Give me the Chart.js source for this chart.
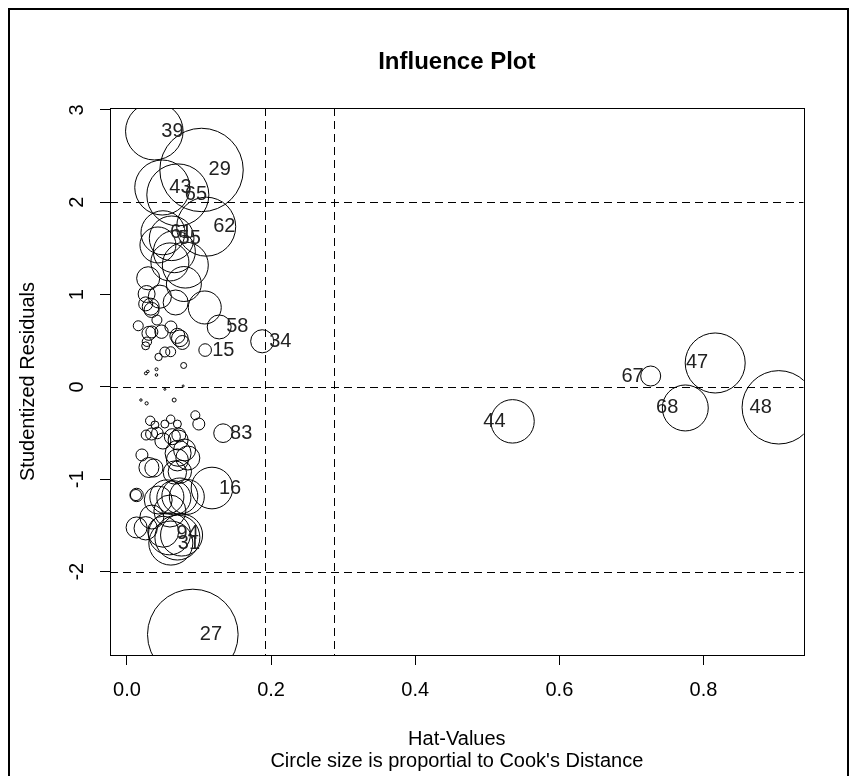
<!DOCTYPE html>
<html>
<head>
<meta charset="utf-8">
<script src="https://cdn.jsdelivr.net/npm/chart.js@4"></script>
<style>
  html, body { margin: 0; padding: 0; background: #fff; }
  #wrap { width: 850px; height: 776px; }
</style>
</head>
<body>
<div id="wrap"><canvas id="influence" width="850" height="776"></canvas></div>
<script>
// observation labels ('' = not labelled)
const obsLabels = [
  '39', '29', '43', '65', '62', '61', '55', '58', '34', '15',
  '83', '16', '94', '31', '27', '44', '67', '47', '68', '48',
  '', '', '', '', '', '', '', '', '', '', '', '', '', '', '', '', '', '', '', '', '', '', '', '', '', '', '', '',
  '', '', '', '', '', '', '', '', '', '', '', '', '', '', '', '', '', '', '', '', '', '', '', '', '', '', '', '',
  '', '', '', '', '', '', '', '', '', '', '', '', '', '', '', '', '', ''
];
const hatValues = [
  0.038, 0.1035, 0.049, 0.0706, 0.110, 0.050, 0.062, 0.128, 0.1877, 0.1085,
  0.1334, 0.118, 0.0591, 0.0609, 0.0914, 0.535, 0.7267, 0.8162, 0.7747, 0.9044,
  0.0658, 0.043, 0.081, 0.079, 0.0295, 0.0273, 0.0457, 0.0676, 0.108, 0.033,
  0.0342, 0.026, 0.0157, 0.0305, 0.0346, 0.048, 0.0277, 0.026, 0.070, 0.0734,
  0.0769, 0.0607, 0.0526, 0.0439, 0.0787, 0.0263, 0.029, 0.041, 0.041, 0.0526,
  0.078, 0.0194, 0.0273, 0.0655, 0.0949, 0.0997, 0.0323, 0.0388, 0.0607, 0.0526,
  0.070, 0.0267, 0.0342, 0.0422, 0.063, 0.072, 0.071, 0.071, 0.070, 0.080,
  0.0305, 0.0374, 0.0665, 0.0734, 0.0134, 0.0125, 0.0434, 0.0554, 0.0651, 0.0734,
  0.0831, 0.0134, 0.026, 0.0503, 0.070, 0.0758, 0.0596, 0.0416, 0.061, 0.0499,
  0.0845, 0.0208, 0.0596, 0.0346
];
const studRes = [
  2.77, 2.35, 2.16, 2.08, 1.736, 1.67, 1.61, 0.65, 0.495, 0.40,
  -0.50, -1.094, -1.59, -1.69, -2.68, -0.372, 0.119, 0.26, -0.227, -0.22,
  1.465, 1.538, 1.32, 1.115, 1.177, 1.007, 0.978, 0.915, 0.861, 0.87,
  0.834, 0.90, 0.663, 0.581, 0.596, 0.599, 0.49, 0.446, 0.554, 0.527,
  0.482, 0.382, 0.379, 0.325, 0.233, 0.148, 0.168, 0.192, 0.13, -0.025,
  0.011, -0.141, -0.177, -0.141, -0.306, -0.401, -0.366, -0.411, -0.349, -0.401,
  -0.401, -0.52, -0.509, -0.498, -0.538, -0.52, -0.574, -0.718, -0.79, -0.682,
  -0.872, -0.877, -0.926, -0.917, -1.169, -1.17, -1.224, -1.19, -1.20, -1.18,
  -1.19, -1.521, -1.53, -1.567, -1.63, -1.603, 1.354, 0.725, 0.65, -0.585,
  -0.769, -0.736, -1.343, -1.408
];
const cooksD = [
  0.0323, 0.0678, 0.0295, 0.0375, 0.0339, 0.0189, 0.0194, 0.0056, 0.0052, 0.00155,
  0.0034, 0.0169, 0.0172, 0.0189, 0.08, 0.0184, 0.0039, 0.0351, 0.0206, 0.0525,
  0.0172, 0.0126, 0.0206, 0.0119, 0.0052, 0.0028, 0.0052, 0.0061, 0.0106, 0.0028,
  0.0022, 0.0019, 0.00097, 0.0019, 0.0014, 0.00175, 0.00086, 0.00062, 0.0022, 0.0027,
  0.0019, 0.00097, 0.00097, 0.00053, 0.00035, 0.000088, 0.000066, 0.000088, 0.000066, 0.000039,
  0.000039, 0.000056, 0.0001, 0.000156, 0.00079, 0.0014, 0.00086, 0.00062, 0.00069, 0.00062,
  0.00062, 0.00097, 0.0014, 0.0013, 0.0025, 0.0019, 0.0039, 0.0066, 0.0047, 0.0047,
  0.0039, 0.0032, 0.0053, 0.0053, 0.00175, 0.0012, 0.0076, 0.0113, 0.0113, 0.0126,
  0.0119, 0.0043, 0.0053, 0.0094, 0.0197, 0.0172, 0.0141, 0.00097, 0.0014, 0.0025,
  0.0056, 0.0014, 0.0100, 0.0056
];
const xTicks = [0, 0.2, 0.4, 0.6, 0.8];
const yTicks = [-2, -1, 0, 1, 2, 3];
const hatCutoffs = [0.1915, 0.287];
const residCutoffs = [-2, 0, 2];

const FONT = "'Liberation Sans', Arial, sans-serif";
const maxRadius = 45.3;
const maxCook = Math.max(...cooksD);

const points = hatValues.map((h, i) => ({
  x: h,
  y: studRes[i],
  r: maxRadius * Math.sqrt(cooksD[i] / maxCook)
}));

// white page and the frame round it
const frame = {
  id: 'frame',
  beforeDraw(chart) {
    const { ctx, width, height } = chart;
    ctx.save();
    ctx.fillStyle = '#fff';
    ctx.fillRect(0, 0, width, height);
    ctx.strokeStyle = '#000';
    ctx.lineWidth = 2;
    ctx.beginPath();
    ctx.moveTo(9, height + 5);
    ctx.lineTo(9, 9);
    ctx.lineTo(848, 9);
    ctx.lineTo(848, height + 5);
    ctx.stroke();
    ctx.restore();
  }
};

// dashed cut-off lines + plot box
const refLines = {
  id: 'refLines',
  beforeDatasetsDraw(chart) {
    const { ctx, chartArea: a, scales: { x, y } } = chart;
    ctx.save();
    ctx.beginPath();
    ctx.rect(a.left, a.top, a.right - a.left, a.bottom - a.top);
    ctx.clip();
    ctx.strokeStyle = '#000';
    ctx.lineWidth = 1;
    ctx.setLineDash([8, 5]);
    hatCutoffs.forEach(v => {
      const px = Math.round(x.getPixelForValue(v)) + 0.5;
      ctx.beginPath();
      ctx.moveTo(px, a.top);
      ctx.lineTo(px, a.bottom);
      ctx.stroke();
    });
    residCutoffs.forEach(v => {
      const py = Math.round(y.getPixelForValue(v)) + 0.5;
      ctx.beginPath();
      ctx.moveTo(a.left, py);
      ctx.lineTo(a.right, py);
      ctx.stroke();
    });
    ctx.restore();
  },
  afterDraw(chart) {
    const { ctx, chartArea: a } = chart;
    ctx.save();
    ctx.strokeStyle = '#000';
    ctx.lineWidth = 1;
    ctx.strokeRect(Math.round(a.left) + 0.5, Math.round(a.top) + 0.5,
      Math.round(a.right - a.left), Math.round(a.bottom - a.top));
    ctx.restore();
  }
};

// observation numbers beside the circles
const pointLabels = {
  id: 'pointLabels',
  afterDatasetsDraw(chart) {
    const { ctx } = chart;
    const meta = chart.getDatasetMeta(0);
    const mid = (Math.min(...hatValues) + Math.max(...hatValues)) / 2;
    ctx.save();
    ctx.font = '20px ' + FONT;
    ctx.fillStyle = '#222';
    ctx.textBaseline = 'middle';
    obsLabels.forEach((lab, i) => {
      if (!lab) return;
      const el = meta.data[i];
      const right = hatValues[i] <= mid;
      ctx.textAlign = right ? 'left' : 'right';
      ctx.fillText(lab, el.x + (right ? 7 : -7), el.y);
    });
    ctx.restore();
  }
};

Chart.defaults.font.family = FONT;
Chart.defaults.font.size = 20;
Chart.defaults.color = '#000';

new Chart(document.getElementById('influence'), {
  type: 'bubble',
  data: {
    datasets: [{
      data: points,
      backgroundColor: 'rgba(0,0,0,0)',
      borderColor: '#000',
      borderWidth: 1,
      hoverRadius: 0,
      clip: 0
    }]
  },
  options: {
    responsive: false,
    animation: false,
    events: [],
    layout: { padding: { left: 0, right: 45, top: 0, bottom: 0 } },
    plugins: {
      legend: { display: false },
      tooltip: { enabled: false },
      title: {
        display: true,
        text: 'Influence Plot',
        fullSize: false,
        color: '#000',
        font: { size: 24, weight: 'bold' },
        padding: { top: 47.6, bottom: 31.6 }
      }
    },
    scales: {
      x: {
        type: 'linear',
        min: -0.0235,
        max: 0.939,
        afterBuildTicks: s => { s.ticks = xTicks.map(v => ({ value: v })); },
        afterFit: s => {
          s.height = 121;
          s.paddingLeft = 0; s.paddingRight = 0;
        },
        border: { display: false },
        grid: { display: true, drawOnChartArea: false, drawTicks: true, tickLength: 10, color: '#000' },
        ticks: { padding: 13, maxRotation: 0, autoSkip: false, callback: v => v.toFixed(1) },
        title: {
          display: true,
          text: ['Hat-Values', "Circle size is proportial to Cook's Distance"],
          font: { size: 20, lineHeight: 1.1 },
          padding: { top: 0, bottom: 4 }
        }
      },
      y: {
        type: 'linear',
        min: -2.902,
        max: 3.021,
        afterBuildTicks: s => { s.ticks = yTicks.map(v => ({ value: v })); },
        afterFit: s => {
          s.width = 110;
          s.paddingTop = 0; s.paddingBottom = 0;
        },
        border: { display: false },
        grid: { display: true, drawOnChartArea: false, drawTicks: true, tickLength: 10, color: '#000' },
        ticks: { padding: 14, minRotation: 90, maxRotation: 90, crossAlign: 'center', autoSkip: false, callback: v => String(v) },
        title: {
          display: true,
          text: 'Studentized Residuals',
          padding: { top: 16, bottom: 0 }
        }
      }
    }
  },
  plugins: [frame, refLines, pointLabels]
});
</script>
</body>
</html>
